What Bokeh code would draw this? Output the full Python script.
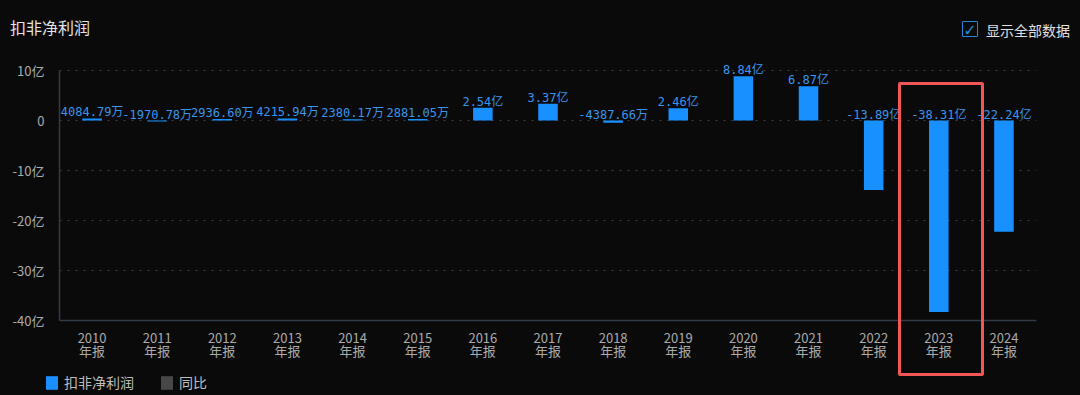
from bokeh.plotting import figure
from bokeh.models import (ColumnDataSource, FixedTicker, Legend, LegendItem, Div)
from bokeh.layouts import column
from bokeh.core.properties import value
from bokeh.embed import file_html
from bokeh.resources import INLINE

# ---- data (values in 亿元) ----
years = ["2010", "2011", "2012", "2013", "2014", "2015", "2016", "2017",
         "2018", "2019", "2020", "2021", "2022", "2023", "2024"]
profit = [0.408479, -0.197078, 0.293660, 0.421594, 0.238017, 0.288105,
          2.54, 3.37, -0.438766, 2.46, 8.84, 6.87, -13.89, -38.31, -22.24]
y_ticks = [-40, -30, -20, -10, 0, 10]
y_tick_labels = ["-40亿", "-30亿", "-20亿", "-10亿", "0", "10亿"]
highlight_year = "2023"
title_text = "扣非净利润"
checkbox_text = "显示全部数据"
legend_labels = ["扣非净利润", "同比"]

factors = [y + "\n年报" for y in years]


def fmt(v):
    if abs(v) < 1:
        return "%.2f万" % (v * 10000)
    return "%.2f亿" % v


src = ColumnDataSource(dict(
    x=factors,
    top=profit,
    ly=[max(v, 0) for v in profit],
    lab=[fmt(v) for v in profit],
))

BG = "#0a0a0a"
BLUE = "#1890ff"
GREY = "#474747"
FONT = "Noto Sans CJK SC"
MONO = '"DejaVu Sans Mono", "Noto Sans CJK SC"'

W, H = 1080, 395
HEADER_H = 48
LEGEND_H = 35
Y0, Y1 = -40, 12
FL, FR, FT = 59, 44, 12
FW = W - FL - FR
FH = 260
FB = H - HEADER_H - LEGEND_H - FT - FH

header = Div(text=(
    f'<div style="position:relative;width:{W}px;height:{HEADER_H}px;'
    f'background:{BG};font-family:\'{FONT}\';">'
    f'<span style="position:absolute;left:10px;top:16px;font-size:16px;'
    f'line-height:22px;color:#e2e2e2;white-space:nowrap">{title_text}</span>'
    f'<span style="position:absolute;left:962px;top:21px;width:16px;height:16px;'
    f'border:1.5px solid #2a86d8;border-radius:1px;color:#2a86d8;'
    f'font-family:\'DejaVu Sans\';font-size:16px;font-weight:bold;line-height:17px;'
    f'text-align:center">&#10003;</span>'
    f'<span style="position:absolute;left:986px;top:20px;font-size:14px;'
    f'line-height:20px;color:#e0e0e0;white-space:nowrap">{checkbox_text}</span>'
    f'</div>'), width=W, height=HEADER_H, margin=0)

p = figure(x_range=factors, y_range=(Y0, Y1),
           frame_width=FW, frame_height=FH,
           min_border_left=FL, min_border_right=FR,
           min_border_top=FT, min_border_bottom=FB,
           output_backend="svg", toolbar_location=None,
           background_fill_color=BG, border_fill_color=BG, margin=0)
p.outline_line_color = None

bars = p.vbar(x="x", top="top", bottom=0, width=0.3, source=src,
              fill_color=BLUE, line_color=None)
p.text(x="x", y="ly", text="lab", source=src, text_align="center",
       text_baseline="alphabetic", y_offset=-6, text_color="#3896ee",
       text_font=value(MONO), text_font_size="12px")

# axes
p.yaxis.ticker = FixedTicker(ticks=y_ticks)
p.yaxis.bounds = (min(y_ticks), max(y_ticks))
p.yaxis.major_label_overrides = {t: l for t, l in zip(y_ticks, y_tick_labels)}
for ax in (p.xaxis[0], p.yaxis[0]):
    ax.axis_line_color = "#343b48"
    ax.axis_line_width = 1.5
    ax.major_tick_line_color = None
    ax.minor_tick_line_color = None
    ax.major_tick_out = 0
    ax.major_tick_in = 0
    ax.axis_label_standoff = 0
    ax.major_label_text_color = "#ababab"
    ax.major_label_text_font = FONT
    ax.major_label_text_font_size = "13px"
p.yaxis.major_label_standoff = 15
p.xaxis.major_label_standoff = 7
p.xaxis.major_label_text_line_height = 0.72

p.xgrid.grid_line_color = None
p.ygrid.grid_line_color = "#3e3e3e"
p.ygrid.grid_line_dash = "2 6"
p.ygrid.grid_line_width = 1

# legend strip (its own small canvas; each entry carries a zero-height bar
# so that the legend swatch is drawn in the series colour)
lg = figure(width=W, height=LEGEND_H, frame_width=W, frame_height=LEGEND_H,
            min_border=0, output_backend="svg", toolbar_location=None,
            background_fill_color=BG, border_fill_color=BG, margin=0,
            x_range=(0, 1), y_range=(0, 1))
lg.outline_line_color = None
lg.axis.visible = False
lg.grid.visible = False
r_main = lg.vbar(x=[0.5], top=[0], bottom=[0], width=0.3,
                 fill_color=BLUE, line_color=None)
r_yoy = lg.vbar(x=[0.5], top=[0], bottom=[0], width=0.3,
                fill_color=GREY, line_color=None)
legend = Legend(items=[LegendItem(label=legend_labels[0], renderers=[r_main]),
                       LegendItem(label=legend_labels[1], renderers=[r_yoy])],
                orientation="horizontal", location=(44, 6),
                background_fill_alpha=0, border_line_color=None,
                padding=0, margin=0, spacing=25, label_standoff=5,
                glyph_width=15, glyph_height=17, label_height=14,
                label_text_color="#bdbdbd", label_text_font=FONT,
                label_text_font_size="14px")
lg.add_layout(legend)

layout = column(header, p, lg, spacing=0, margin=0)

# highlight box around 2023 (page overlay, derived from the plot geometry)
cat_w = FW / len(years)
px_per_unit = FH / (Y1 - Y0)
frame_top = HEADER_H + FT
idx = years.index(highlight_year)
box_left = FL + (idx - 0.12) * cat_w
box_right = FL + (idx + 1.2) * cat_w
box_top = frame_top + (Y1 - 7.6) * px_per_unit
box_bottom = 376
bw = 3
overlay = (f'<div style="position:absolute;left:{box_left:.0f}px;top:{box_top:.0f}px;'
           f'width:{box_right - box_left - 2 * bw:.0f}px;'
           f'height:{box_bottom - box_top - 2 * bw:.0f}px;'
           f'border:{bw}px solid #f25656;border-radius:2px;'
           f'pointer-events:none;z-index:10"></div>')

html = file_html(layout, INLINE)
html = html.replace("<head>", "<head><style>html,body{margin:0;padding:0;"
                    f"background:{BG};overflow:hidden}}</style>", 1)
html = html.replace("</body>", overlay + "</body>", 1)
open("out.html", "w").write(html)
